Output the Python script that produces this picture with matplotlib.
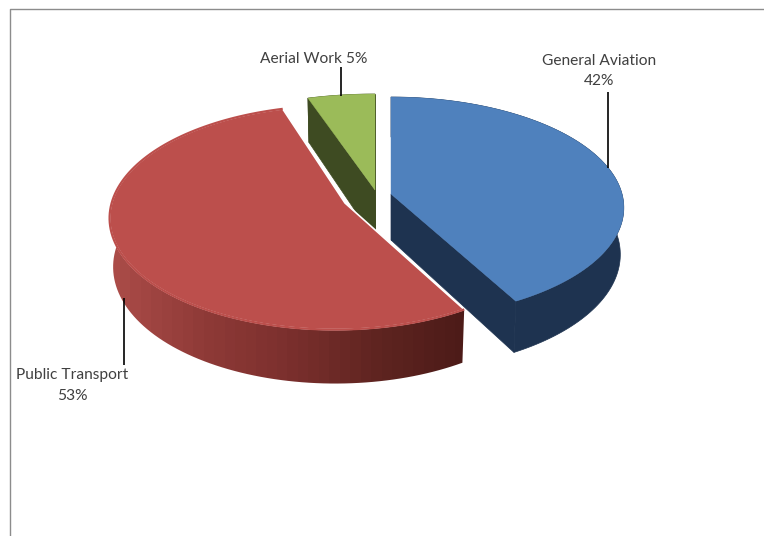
from __future__ import annotations

import matplotlib.pyplot as plt
import numpy as np
from matplotlib.colors import LinearSegmentedColormap
from matplotlib.patches import Polygon

CATEGORIES = ["General Aviation", "Public Transport", "Aerial Work"]
SHARES = [42, 53, 5]
LABELS = ["General Aviation\n42%", "Public Transport\n53%", "Aerial Work 5%"]

TOP_COLORS = ["#4F81BD", "#BC4F4C", "#9BBB59"]
SIDE_COLORS = ["#1E3350", None, "#3E4B22"]
RED_SIDE = LinearSegmentedColormap.from_list(
    "red_side", ["#AB4C48", "#8F3A37", "#7A2F2D", "#5E2420", "#4B1A18"]
)

# slice apex in pixels, radii, perspective terms, wall height
APEX = [(391, 194), (345, 203), (375, 190)]
RADIUS_X = [231, 224, 248]
RADIUS_Y = [109, 110, 110.4]
TILT = [0.124, 0.13, 0.15]
SKEW = [0.0, 0.04, 0.0]
WALL = [46, 48, 50]

LABEL_POS = [(599.5, 71), (72, 385.5), (313.5, 59)]
LEADERS = [(608, 92, 168), (124, 298, 365), (341, 67, 96)]


def project(i: int, theta: np.ndarray) -> tuple[np.ndarray, np.ndarray]:
    u = np.sin(theta)
    v = np.cos(theta)
    w = 1 + TILT[i] * v + SKEW[i] * u
    return APEX[i][0] + RADIUS_X[i] * u / w, APEX[i][1] - RADIUS_Y[i] * v / w


def draw_slice(ax: plt.Axes, i: int, start: float, end: float, order: int) -> None:
    theta = np.linspace(start, end, 120)
    x, y = project(i, theta)
    ax_, ay_ = APEX[i]
    x_low = ax_ + (x - ax_) * 0.985
    y_low = y + WALL[i] - 6 * np.cos(theta)
    wall = np.column_stack([np.r_[x, x_low[::-1]], np.r_[y, y_low[::-1]]])

    if SIDE_COLORS[i] is None:
        # stepped gradient across the wall, clipped to its outline
        outline = Polygon(wall, fc="none", ec="none", transform=ax.transData)
        ax.add_patch(outline)
        steps = np.floor(np.linspace(0, 34, 356, endpoint=False)) / 34
        im = ax.imshow(
            steps[None, :],
            cmap=RED_SIDE,
            vmin=0,
            vmax=1,
            extent=(109, 465, y_low.max(), y.min()),
            aspect="auto",
            interpolation="nearest",
            zorder=order,
        )
        im.set_clip_path(outline)
    else:
        side = SIDE_COLORS[i]
        ax.add_patch(Polygon(wall, fc=side, ec=side, lw=0.5, zorder=order))
        for k in (0, -1):
            cut = [(ax_, ay_), (x[k], y[k]), (x_low[k], y_low[k]), (ax_, ay_ + WALL[i])]
            ax.add_patch(Polygon(cut, fc=side, ec=side, lw=0.5, zorder=order))

    top = np.column_stack([np.r_[ax_, x], np.r_[ay_, y]])
    edge = "white" if i == 1 else TOP_COLORS[i]
    ax.add_patch(Polygon(top, fc=TOP_COLORS[i], ec=edge, lw=1.2 if i == 1 else 0.3, zorder=order + 0.5))
    if i == 1:
        # white rim only along the cuts, the arc keeps the plain fill
        ax.plot(x, y, color=TOP_COLORS[i], lw=1.6, zorder=order + 0.6, solid_capstyle="butt")


def main() -> None:
    plt.rcParams["font.family"] = ["Lato", "DejaVu Sans"]
    fig = plt.figure(figsize=(7.64, 5.36), dpi=100)
    ax = fig.add_axes([0, 0, 1, 1])
    ax.axis("off")

    # chart frame: only top and left survive in the crop
    ax.plot([10, 10, 764], [536, 8.5, 8.5], color="#8C8C8C", lw=1.0)

    edges = np.cumsum([0] + SHARES) / sum(SHARES) * 2 * np.pi
    for order, i in zip((2, 3, 4), (0, 2, 1)):
        draw_slice(ax, i, edges[i], edges[i + 1], order)

    for x, y0, y1 in LEADERS:
        ax.plot([x, x], [y0, y1], color="black", lw=1.2, zorder=6, solid_capstyle="butt")

    for (x, y), label in zip(LABEL_POS, LABELS):
        ax.text(x, y, label, ha="center", va="center", fontsize=11.2, color="#404040", linespacing=1.55, zorder=7)

    ax.set_xlim(0, 764)
    ax.set_ylim(536, 0)
    fig.savefig("out.png", dpi=100)
    plt.close(fig)


if __name__ == "__main__":
    main()
